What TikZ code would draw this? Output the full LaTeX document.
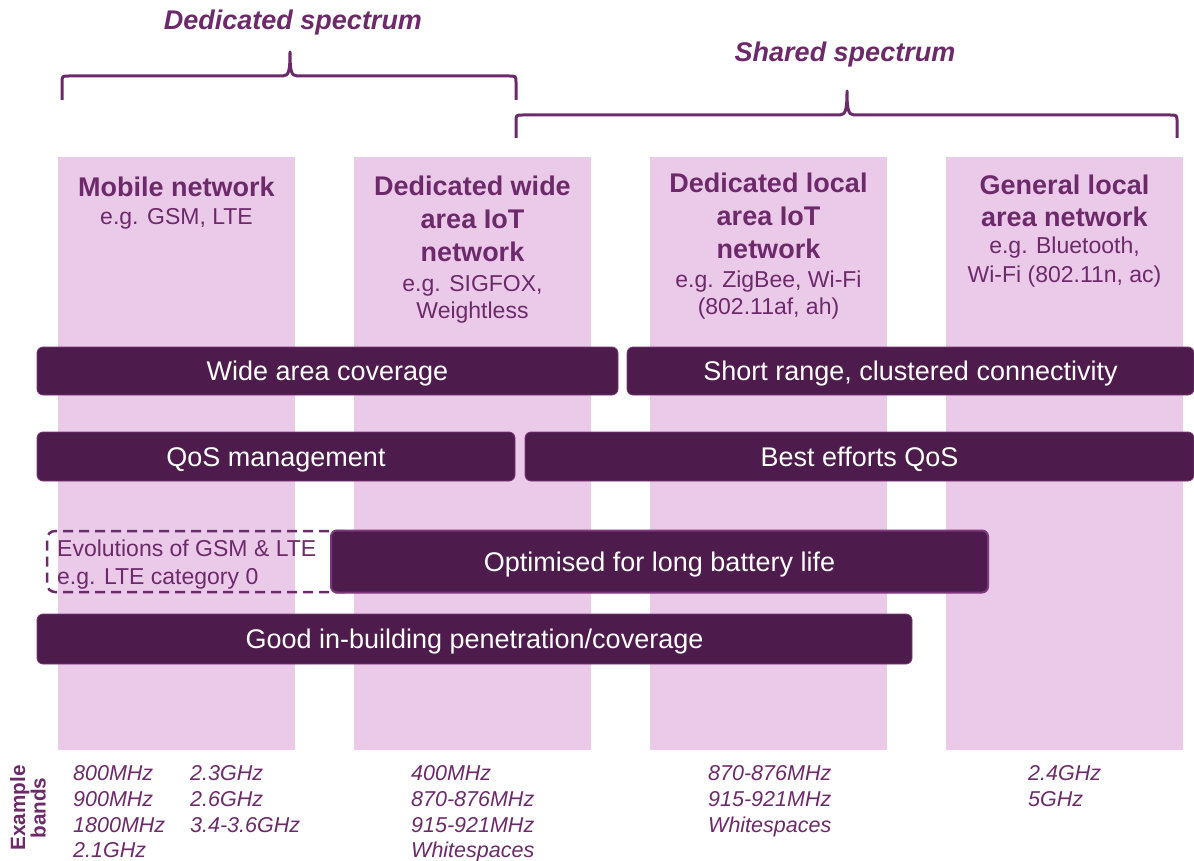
\documentclass[tikz,border=0pt]{standalone}
\usepackage{fontspec}
\setmainfont{Liberation Sans}
\definecolor{pinkcol}{RGB}{235,201,233}
\definecolor{barpurple}{RGB}{78,28,76}
\definecolor{txtpurple}{RGB}{108,42,106}
\definecolor{edgepurple}{RGB}{125,55,122}
\tikzset{
  colbox/.style={fill=pinkcol, draw=none, inner sep=0pt, minimum width=237pt, minimum height=593pt, anchor=north west},
  bar/.style={fill=barpurple, draw=edgepurple, line width=0.8pt, rounded corners=6pt, text=white, font=\fontsize{27}{32}\selectfont, inner sep=0pt, text height=19.4pt, text depth=0pt},
  head/.style={text=txtpurple, font=\bfseries\fontsize{27}{33}\selectfont, align=center, inner sep=0pt},
  sub/.style={text=txtpurple, font=\fontsize{23}{27}\selectfont, align=center, inner sep=0pt},
  band/.style={text=txtpurple, font=\itshape\fontsize{21.5}{25.7}\selectfont, align=left, anchor=north west, inner sep=0pt},
  spec/.style={text=txtpurple, font=\bfseries\itshape\fontsize{27}{32}\selectfont, inner sep=0pt},
  bracket/.style={draw=txtpurple, line width=3pt, line join=round},
  dashbox/.style={draw=txtpurple, line width=2.5pt, dash pattern=on 10pt off 6pt, rounded corners=8pt}
}
\begin{document}
\begin{tikzpicture}[x=1pt,y=-1pt]
\useasboundingbox (0,0) rectangle (1194,861);
% columns
\node[colbox] (c1) at (58,157) {};
\node[colbox] (c2) at (354,157) {};
\node[colbox] (c3) at (650,157) {};
\node[colbox] (c4) at (946,157) {};
% spectrum titles and braces
\node[spec] (ds) at (293,23) {Dedicated spectrum};
\node[spec] (ss) at (845,55) {Shared spectrum};
\draw[bracket] (62,100) -- (62,83) .. controls (62,76) .. (69,76) -- (283,76)
  .. controls (289,76) and (290,70) .. (290,52) .. controls (290,70) and (291,76) .. (297,76)
  -- (509,76) .. controls (516,76) .. (516,83) -- (516,100);
\draw[bracket] (516,138) -- (516,122) .. controls (516,115) .. (523,115) -- (840,115)
  .. controls (846,115) and (847,108) .. (847,91) .. controls (847,108) and (848,115) .. (854,115)
  -- (1170,115) .. controls (1177,115) .. (1177,122) -- (1177,138);
% column headers
\node[head] (h1) at (176.5,187) {Mobile network};
\node[sub]  (s1) at (176.5,219) {e.g. GSM, LTE};
\node[head] (h2) at (472.5,219) {Dedicated wide\\area IoT\\network};
\node[sub]  (s2) at (472.5,299) {e.g. SIGFOX,\\Weightless};
\node[head] (h3) at (768.5,216) {Dedicated local\\area IoT\\network};
\node[sub]  (s3) at (768.5,295) {e.g. ZigBee, Wi-Fi\\(802.11af, ah)};
\node[head, font=\bfseries\fontsize{27}{32.5}\selectfont] (h4) at (1064.5,201) {General local\\area network};
\node[sub, font=\fontsize{23}{29}\selectfont] (s4) at (1064.5,262.5) {e.g. Bluetooth,\\Wi-Fi (802.11n, ac)};
% bars
\node[bar, minimum width=581pt, minimum height=48pt] (wac) at (327.5,371) {Wide area coverage};
\node[bar, minimum width=567pt, minimum height=48pt] (src) at (910.5,371) {Short range, clustered connectivity};
\node[bar, minimum width=478pt, minimum height=49pt] (qos) at (276,456.5) {QoS management};
\node[bar, minimum width=669pt, minimum height=49pt] (beq) at (859.5,456.5) {Best efforts QoS};
\draw[dashbox] (345,531) -- (47,531) -- (47,592) -- (345,592);
\node[text=txtpurple, font=\fontsize{23}{28.5}\selectfont, align=left, anchor=north west, inner sep=0pt] (evo) at (57,539.5) {Evolutions of GSM \& LTE\\e.g. LTE category 0};
\node[bar, draw=edgepurple, line width=2pt, minimum width=657pt, minimum height=62pt] (olb) at (659.5,561.5) {Optimised for long battery life};
\node[bar, minimum width=875pt, minimum height=50pt] (gib) at (474.5,639) {Good in-building penetration/coverage};
% example bands
\node[text=txtpurple, font=\bfseries\fontsize{20.7}{20.5}\selectfont, align=center, rotate=90, inner sep=0pt] (eb) at (28,808) {Example\\bands};
\node[band] (b1a) at (73,765.5) {800MHz\\900MHz\\1800MHz\\2.1GHz};
\node[band] (b1b) at (190,765.5) {2.3GHz\\2.6GHz\\3.4-3.6GHz};
\node[band] (b2) at (411,765.5) {400MHz\\870-876MHz\\915-921MHz\\Whitespaces};
\node[band] (b3) at (708,765.5) {870-876MHz\\915-921MHz\\Whitespaces};
\node[band] (b4) at (1028,765.5) {2.4GHz\\5GHz};
\end{tikzpicture}
\end{document}
